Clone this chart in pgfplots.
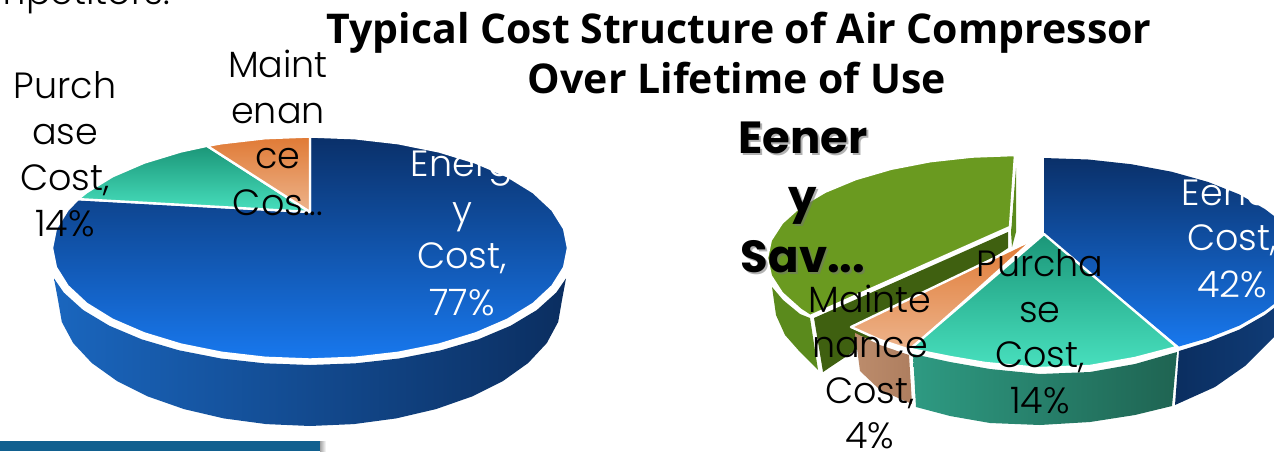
\documentclass[border=0pt]{standalone}
\usepackage{fontspec}
\usepackage{pgfplots}
\pgfplotsset{compat=1.18}
\setmainfont{Poppins Light}
\newfontfamily\titlefont{Open Sans}
\newfontfamily\boldfont{Poppins}
\definecolor{navy}{HTML}{0A3069}
\definecolor{midblue}{HTML}{1468D2}
\definecolor{brightblue}{HTML}{1878EE}
\definecolor{sideA}{HTML}{1A66BE}
\definecolor{sideB}{HTML}{124C96}
\definecolor{sideC}{HTML}{0B2E60}
\definecolor{sideD}{HTML}{0F3B75}
\definecolor{teal1}{HTML}{1B9678}
\definecolor{tealmid}{HTML}{3CCDA9}
\definecolor{teal2}{HTML}{48E0BE}
\definecolor{tealsideA}{HTML}{2E9A82}
\definecolor{tealsideB}{HTML}{1F6452}
\definecolor{org1}{HTML}{E07A35}
\definecolor{org2}{HTML}{EDB48C}
\definecolor{orgsideA}{HTML}{BC8C6C}
\definecolor{orgsideB}{HTML}{AE7E5F}
\definecolor{olive}{HTML}{6A9A20}
\definecolor{olivedark}{HTML}{3F6010}
\definecolor{oliveside}{HTML}{5A8A1C}
\definecolor{barblue}{HTML}{11608F}
\tikzset{
  lab/.style={anchor=base,font=\fontsize{36.5}{36.5}\selectfont,inner sep=0pt},
  ttl/.style={anchor=base,font=\fontsize{41}{41}\titlefont\bfseries,inner sep=0pt},
  bld/.style={anchor=base,font=\fontsize{45}{45}\boldfont\bfseries,inner sep=0pt},
  shd/.style={bld,text=black!55,text opacity=0.55},
  sep/.style={draw=white,line width=2.4pt,line join=round},
}
\begin{document}
\begin{tikzpicture}
\path[use as bounding box,clip] (0,0) rectangle (1274pt,451pt);
\begin{axis}[
  at={(0,0)},anchor=south west,scale only axis,width=1274pt,height=451pt,
  xmin=0,xmax=1274,ymin=0,ymax=451,y dir=reverse,hide axis,clip=false]
% left pie, side
\addplot[draw=none,left color=sideA,middle color=sideB,right color=sideC] coordinates {
(54,278.4)(63.8,292.6)(83.1,310)(109.3,325.7)(141.6,339.3)(179,350.3)(220.4,358.4)(264.5,363.3)(310,365)(355.5,363.3)(399.6,358.4)(441,350.3)(478.4,339.3)(510.7,325.7)(536.9,310)(556.2,292.6)(566,278.4)
(562,300)(558.2,321.9)(546.8,343.1)(528.2,363)(503,381)(472,396.5)(436,409.1)(396.2,418.4)(353.7,424.1)(310,426)(266.3,424.1)(223.8,418.4)(184,409.1)(148,396.5)(117,381)(91.8,363)(73.2,343.1)(61.8,321.9)(58,300)
} --cycle;
% left pie, energy 77
\addplot[sep,top color=navy,middle color=midblue,bottom color=brightblue] coordinates {
(310,212)(310,136.5)(354.8,138.2)(398.2,143.2)(439,151.4)(475.8,162.6)(507.6,176.3)(533.4,192.2)(552.4,209.9)(564.1,228.6)(568,248)(564.1,267.4)(552.4,286.1)(533.4,303.8)(507.6,319.7)(475.8,333.4)(439,344.6)(398.2,352.8)(354.8,357.8)(310,359.5)(265.2,357.8)(221.8,352.8)(181,344.6)(144.2,333.4)(112.4,319.7)(86.6,303.8)(67.6,286.1)(55.9,267.4)(52,248)(55.9,228.6)(67.6,209.9)(78,199.1)
} --cycle;
% left pie, purchase 14
\addplot[sep,top color=teal1,middle color=tealmid,bottom color=teal2] coordinates {
(310,212)(78,199.1)(86.6,192.2)(112.4,176.3)(144.2,162.6)(181,151.4)(207,145.8)
} --cycle;
% left pie, maintenance
\addplot[sep,top color=org1,bottom color=org2] coordinates {
(310,212)(207,145.8)(221.8,143.2)(265.2,138.2)(310,136.5)
} --cycle;
% right pie, energy savings: sides then top
\addplot[draw=none,fill=oliveside] coordinates {
(772,287)(783,300)(800,314)(810,318)(818,370)(800,352)(785,335)(776,315)
} --cycle;
\addplot[draw=none,fill=olivedark] coordinates {
(1008,232)(814,318)(823,372)(1008,248)
} --cycle;
\addplot[draw=none,fill=oliveside] coordinates {
(1016,168)(1011,232)(1012,247)(1016,232)
} --cycle;
\addplot[sep,fill=olive] coordinates {
(1015,155)(972,156.6)(930.2,161.2)(891,168.8)(855.6,179.1)(825,191.8)(800.2,206.5)(782,222.8)(770.8,240.1)(767,258)(770.8,275.9)(782,293.2)(800.2,309.5)(810,316)(1010,227)
} --cycle;
% right pie, energy 42
\addplot[draw=none,left color=sideC,right color=sideD] coordinates {
(1179,351)(1207.9,342)(1239.3,329.6)(1264.8,315)(1274,308)(1274,337)(1245,366)(1215,387)(1175,405)
} --cycle;
\addplot[draw=none,top color=navy,middle color=midblue,bottom color=brightblue] coordinates {
(1044,234)(1044,158)(1088.3,159.5)(1131.2,164.2)(1171.5,171.7)(1207.9,181.9)(1239.3,194.4)(1264.8,209)(1274,216)(1274,304)(1264.8,311)(1239.3,325.6)(1207.9,338.1)(1179,346.5)
} --cycle;
% right pie, purchase and maintenance sides
\addplot[draw=none,left color=tealsideA,right color=tealsideB] coordinates {
(913,354)(950,362)(990,369)(1040,374)(1090,372)(1135,364)(1177,352)(1172,406)(1135,415)(1090,422)(1040,425)(990,423)(950,416)(916,407)
} --cycle;
\addplot[draw=none,left color=orgsideA,right color=orgsideB] coordinates {
(855,333)(880,345)(909,355)(912,404)(880,390)(860,371)
} --cycle;
\addplot[sep,top color=org1,bottom color=org2] coordinates {
(1034,239)(851,327)(880,340)(910,350)
} --cycle;
\addplot[sep,top color=teal1,middle color=tealmid,bottom color=teal2] coordinates {
(1044,234)(910,349)(950,357)(985,363)(1040,368)(1090,366)(1135,358)(1177,347)
} --cycle;
% bar at bottom left
\addplot[draw=none,left color=gray!70,right color=white] coordinates {(320,441)(326,441)(326,451)(320,451)} --cycle;
\addplot[draw=none,fill=barblue] coordinates {(0,441)(320,441)(320,451)(0,451)} --cycle;

\node[lab,anchor=base east] at (axis cs:170,4) {mpetitors.};
\node[ttl] at (axis cs:739,43) {Typical Cost Structure of Air Compressor};
\node[ttl] at (axis cs:737,93) {Over Lifetime of Use};
\node[lab] at (axis cs:65,98) {Purch};
\node[lab] at (axis cs:65,144) {ase};
\node[lab] at (axis cs:65,190) {Cost,};
\node[lab] at (axis cs:65,236) {14\%};
\node[lab] at (axis cs:278,77) {Maint};
\node[lab] at (axis cs:278,123) {enan};
\node[lab] at (axis cs:278,168) {ce};
\node[lab] at (axis cs:278,215) {Cos...};
\node[lab,text=white] at (axis cs:462,176) {Energ};
\node[lab,text=white] at (axis cs:462,222) {y};
\node[lab,text=white] at (axis cs:462,268) {Cost,};
\node[lab,text=white] at (axis cs:462,315) {77\%};
\node[shd] at (axis cs:805,155) {Eener};
\node[shd] at (axis cs:805,214) {y};
\node[shd] at (axis cs:805,274) {Sav...};
\node[bld] at (axis cs:803,153) {Eener};
\node[bld] at (axis cs:803,212) {y};
\node[bld] at (axis cs:803,272) {Sav...};
\node[lab] at (axis cs:870,312) {Mainte};
\node[lab] at (axis cs:870,357) {nance};
\node[lab] at (axis cs:870,403) {Cost,};
\node[lab] at (axis cs:870,448) {4\%};
\node[lab] at (axis cs:1040,276) {Purcha};
\node[lab] at (axis cs:1040,322) {se};
\node[lab] at (axis cs:1040,367) {Cost,};
\node[lab] at (axis cs:1040,413) {14\%};
\node[lab,text=white] at (axis cs:1232,205) {Eener};
\node[lab,text=white] at (axis cs:1232,250) {Cost,};
\node[lab,text=white] at (axis cs:1232,297) {42\%};
\end{axis}
\end{tikzpicture}
\end{document}
